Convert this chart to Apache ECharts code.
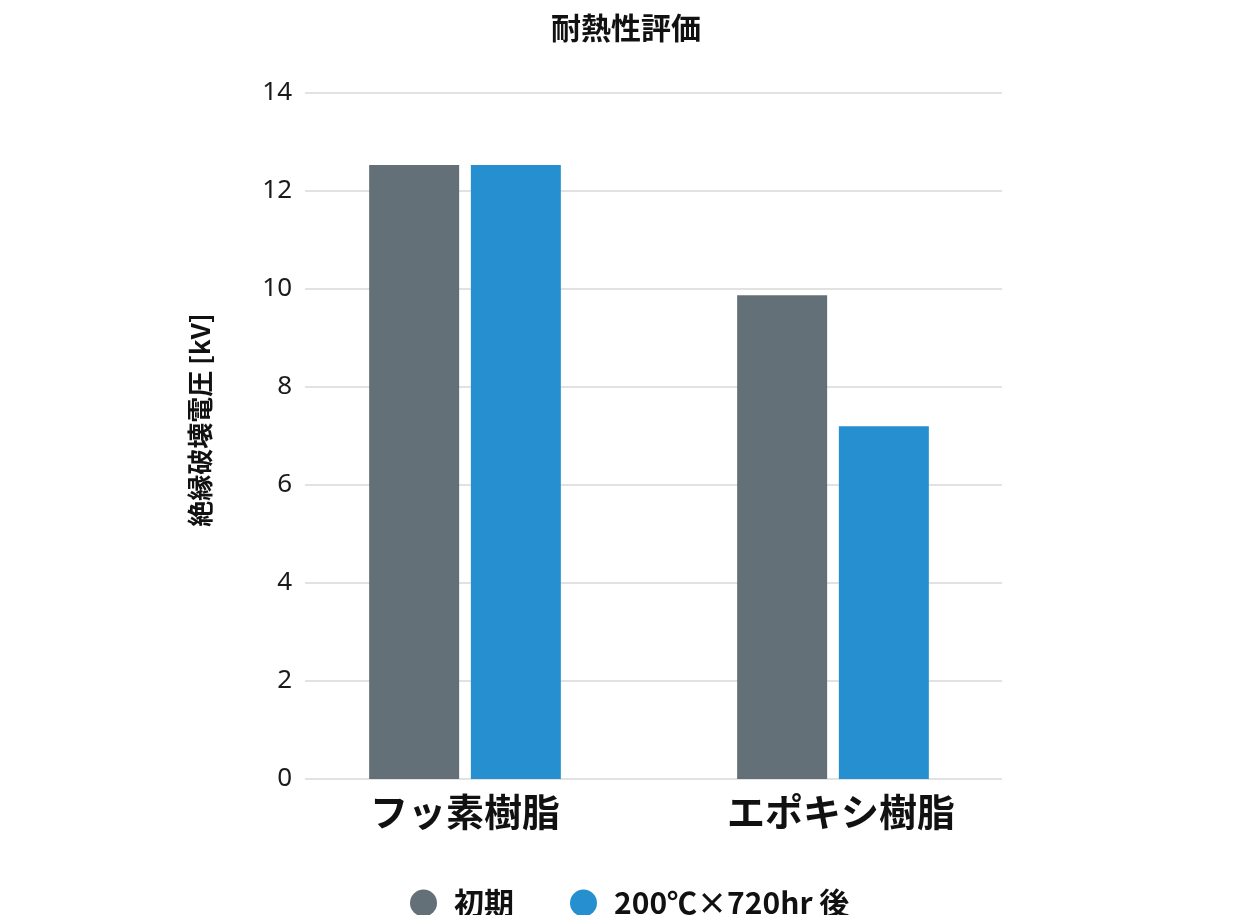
<!DOCTYPE html>
<html>
<head>
<meta charset="utf-8">
<script src="https://cdn.jsdelivr.net/npm/echarts@6/dist/echarts.min.js"></script>
<style>
html,body{margin:0;padding:0;background:#fff;}
#chart{width:1259px;height:915px;}
</style>
</head>
<body>
<div id="chart"></div>
<script>
const categories = ['フッ素樹脂', 'エポキシ樹脂'];
const seriesNames = ['初期', '200℃×720hr 後'];
const initialValues = [12.53, 9.87];
const afterValues = [12.53, 7.2];
const yTicks = [0, 2, 4, 6, 8, 10, 12, 14];

const CJK = "'Noto Sans CJK JP', 'Noto Sans', sans-serif";
const labelShift = [0, 16];
const chart = echarts.init(document.getElementById('chart'));
chart.setOption({
  animation: false,
  title: {
    text: '耐熱性評価',
    left: 546,
    top: 8,
    textStyle: { fontFamily: CJK, fontSize: 30, fontWeight: 'bold', color: '#111' }
  },
  legend: {
    data: seriesNames,
    left: 405,
    top: 883,
    icon: 'circle',
    itemWidth: 27,
    itemHeight: 27,
    itemGap: 56,
    textStyle: { fontFamily: CJK, fontSize: 30, fontWeight: 'bold', color: '#111', padding: [0, 0, 0, 12] }
  },
  grid: [
    { left: 305, top: 93, width: 697, height: 686 },
    { left: 281, top: 93, width: 736, height: 686 }
  ],
  xAxis: [
    { gridIndex: 0, type: 'category', data: categories, show: false },
    {
      gridIndex: 1, type: 'category',
      data: categories.map((c, i) => ({ value: c, textStyle: { padding: [0, 0, 0, labelShift[i]] } })),
      axisLine: { show: false }, axisTick: { show: false },
      axisLabel: { margin: 14, fontFamily: CJK, fontSize: 38, fontWeight: 'bold', color: '#111' }
    }
  ],
  yAxis: [
    {
      gridIndex: 0, type: 'value', min: yTicks[0], max: yTicks[yTicks.length - 1], interval: 2,
      name: '絶縁破壊電圧 [kV]', nameLocation: 'middle', nameGap: 92, nameRotate: 90,
      nameTextStyle: { fontFamily: CJK, fontSize: 26, fontWeight: 'bold', color: '#111', padding: [0, 0, 0, 32] },
      axisLine: { show: false }, axisTick: { show: false },
      axisLabel: { margin: 13, fontFamily: "'Noto Sans', sans-serif", fontSize: 26, color: '#1a1a1a' },
      splitLine: { lineStyle: { color: '#d8d8d8', width: 1.5 } }
    },
    {
      gridIndex: 1, type: 'value', min: yTicks[0], max: yTicks[yTicks.length - 1], interval: 2,
      show: false, splitLine: { show: false }
    }
  ],
  series: [
    {
      name: seriesNames[0], type: 'bar', xAxisIndex: 1, yAxisIndex: 1,
      data: initialValues, barWidth: 90, barGap: '13%',
      itemStyle: { color: '#637077' }
    },
    {
      name: seriesNames[1], type: 'bar', xAxisIndex: 1, yAxisIndex: 1,
      data: afterValues, barWidth: 90, barGap: '13%',
      itemStyle: { color: '#268fd0' }
    }
  ]
});
</script>
</body>
</html>
